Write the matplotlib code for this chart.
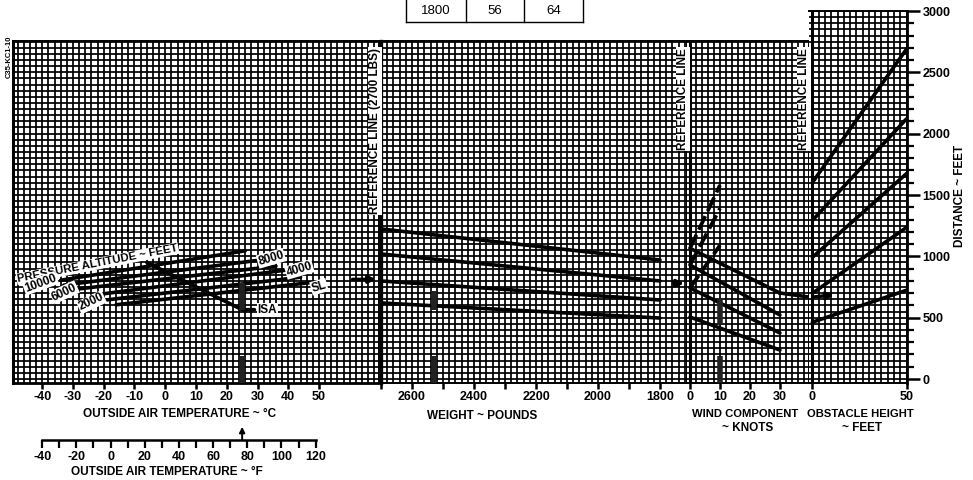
import numpy as np
import matplotlib
matplotlib.use("Agg")
import matplotlib.pyplot as plt
from matplotlib.ticker import MultipleLocator
from matplotlib.lines import Line2D

plt.rcParams['font.family'] = ['Liberation Sans', 'DejaVu Sans']
plt.rcParams['font.weight'] = 'bold'

# ---------------- data ----------------
temp_ticks_c = [-40, -30, -20, -10, 0, 10, 20, 30, 40, 50]
temp_ticks_f = [-40, -20, 0, 20, 40, 60, 80, 100, 120]
weight_ticks = [2600, 2400, 2200, 2000, 1800]
wind_ticks = [0, 10, 20, 30]
obstacle_ticks = [0, 50]
distance_ticks = [0, 500, 1000, 1500, 2000, 2500, 3000]

# pressure altitude lines: (OAT degC, distance ft) at each end
altitudes = ["10000", "8000", "6000", "4000", "2000", "SL"]
alt_t0 = [-34, -33, -28, -23, -19, -16]
alt_d0 = [805, 765, 735, 685, 645, 605]
alt_t1 = [26, 31, 36, 40, 44, 47]
alt_d1 = [1045, 970, 920, 890, 830, 785]

isa_t = [-6, 25, 29]
isa_d = [950, 565, 565]

# weight guide lines: distance at 2700 lb and at 1800 lb
weight_d_2700 = [1223, 1019, 799, 620]
weight_d_1800 = [970, 799, 644, 497]

# wind guide lines: headwind (0 -> 30 kt), tailwind (0 -> 10 kt)
head_d_0 = [1065, 929, 742, 505]
head_d_30 = [701, 522, 375, 236]
tail_d_0 = [1065, 929, 742]
tail_d_10 = [1580, 1390, 1090]

# obstacle guide lines: distance at 0 ft and 50 ft
obst_d_0 = [1602, 1293, 992, 699, 463]
obst_d_50 = [2691, 2122, 1675, 1236, 724]

# worked example
ex_oat = 25
ex_weight = 2530
ex_wind = 10
ex_d_alt = 812
ex_d_weight = 780
ex_d_wind = 668

table_row = ["1800", "56", "64"]

# ---------------- figure ----------------
W_PX, H_PX = 973, 480
fig = plt.figure(figsize=(W_PX / 100, H_PX / 100), dpi=100)


def px_axes(x0, y0, x1, y1):
    return fig.add_axes([x0 / W_PX, 1 - y1 / H_PX, (x1 - x0) / W_PX, (y1 - y0) / H_PX])


def ftext(x, y, s, **kw):
    return fig.text(x / W_PX, 1 - y / H_PX, s, **kw)


def fline(xs, ys, **kw):
    fig.add_artist(Line2D([x / W_PX for x in xs], [1 - y / H_PX for y in ys],
                          transform=fig.transFigure, **kw))


D_BOTTOM = -32.6
D_TOP = 2755
LINE = dict(color='black', lw=2.6, solid_capstyle='round', zorder=3)
EX = dict(color='#222222', lw=4.0, solid_capstyle='butt', zorder=4)
WHITE = dict(facecolor='white', edgecolor='none', pad=0.6)
ARROW = dict(arrowstyle='-|>', color='black', lw=2.5, mutation_scale=10)


def setup(ax, xlim, ylim, dx, hide_left=False):
    ax.set_xlim(*xlim)
    ax.set_ylim(*ylim)
    ax.xaxis.set_minor_locator(MultipleLocator(dx))
    ax.yaxis.set_minor_locator(MultipleLocator(50))
    ax.yaxis.set_major_locator(MultipleLocator(500))
    ax.grid(which='both', color='black', lw=1.25)
    ax.set_axisbelow(True)
    ax.tick_params(which='minor', length=0)
    ax.tick_params(axis='y', which='both', length=0, labelleft=False)
    ax.tick_params(axis='x', which='major', direction='out', length=4, width=1.8,
                   labelsize=9, pad=1.5)
    for s in ax.spines.values():
        s.set_linewidth(1.4)
    if hide_left:
        ax.spines['left'].set_visible(False)


# ---- temperature / pressure altitude panel ----
ax_t = px_axes(13, 41, 379, 383)
setup(ax_t, (-49.5, 69.5), (D_BOTTOM, D_TOP), 2)
ax_t.spines['left'].set_linewidth(2.2)
ax_t.spines['bottom'].set_linewidth(2.0)
ax_t.set_xticks(temp_ticks_c)
ax_t.set_xticklabels([str(v) for v in temp_ticks_c], fontweight='bold')
for t0, d0, t1, d1 in zip(alt_t0, alt_d0, alt_t1, alt_d1):
    ax_t.plot([t0, t1], [d0, d1], **LINE)
ax_t.plot(isa_t, isa_d, **LINE)

lab = dict(fontsize=8.5, fontweight='bold', ha='center', va='center', bbox=WHITE, zorder=5)
ax_t.text(-22.0, 940, "PRESSURE ALTITUDE ~ FEET", rotation=11, fontsize=8.2,
          **{k: v for k, v in lab.items() if k != 'fontsize'})
ax_t.text(-40.6, 780, "10000", rotation=20, **lab)
ax_t.text(-32.8, 707, "6000", rotation=25, **lab)
ax_t.text(-24.0, 626, "2000", rotation=25, **lab)
ax_t.text(34.4, 984, "8000", rotation=16, **lab)
ax_t.text(43.6, 894, "4000", rotation=16, **lab)
ax_t.text(50.0, 752, "SL", rotation=16, **lab)
ax_t.text(33.2, 561, "ISA", rotation=0, **lab)

ax_t.plot([ex_oat, ex_oat], [D_BOTTOM, 190], **EX)
ax_t.plot([ex_oat, ex_oat], [560, 780], **EX)
ax_t.annotate("", xy=(69.5, ex_d_alt), xytext=(60, ex_d_alt), arrowprops=ARROW, zorder=5)

# ---- weight panel ----
ax_w = px_axes(381, 41, 687, 383)
setup(ax_w, (2700, 1713), (D_BOTTOM, D_TOP), 20, hide_left=True)
w_all = np.arange(2700, 1750, -100)
ax_w.set_xticks(w_all)
ax_w.set_xticklabels([str(v) if v in weight_ticks else "" for v in w_all], fontweight='bold')
ax_w.axvline(2700, color='black', lw=2.4, zorder=3, clip_on=False)
for d0, d1 in zip(weight_d_2700, weight_d_1800):
    ax_w.plot([2700, 1800], [d0, d1], **LINE)
ax_w.plot([ex_weight, ex_weight], [D_BOTTOM, 190], **EX)
ax_w.plot([ex_weight, ex_weight], [560, 720], **EX)
ax_w.annotate("", xy=(1713, ex_d_weight), xytext=(1765, ex_d_weight), arrowprops=ARROW, zorder=5)

# ---- wind panel ----
ax_h = px_axes(687, 41, 809, 383)
setup(ax_h, (-1.0, 39.7), (D_BOTTOM, D_TOP), 2, hide_left=True)
ax_h.set_xticks(wind_ticks)
ax_h.set_xticklabels([str(v) for v in wind_ticks], fontweight='bold')
ax_h.axvline(0, color='black', lw=2.2, zorder=3)
for d0, d1 in zip(head_d_0, head_d_30):
    ax_h.plot([0, 30], [d0, d1], **LINE)
for d0, d1 in zip(tail_d_0, tail_d_10):
    ax_h.plot([0, 10], [d0, d1], color='black', lw=2.7, dashes=(4, 1.5), zorder=3)
ax_h.plot([ex_wind, ex_wind], [D_BOTTOM, 190], **EX)
ax_h.plot([ex_wind, ex_wind], [440, 660], **EX)
ax_h.plot([30, 39.7], [head_d_30[0], ex_d_wind], color='black', lw=2.6, zorder=3)

# ---- obstacle panel ----
ax_o = px_axes(809, 11, 907, 383)
setup(ax_o, (-1.8, 50.2), (D_BOTTOM, 3000), 50 / 15, hide_left=True)
ax_o.set_xticks(obstacle_ticks)
ax_o.set_xticklabels([str(v) for v in obstacle_ticks], fontweight='bold')
ax_o.axvline(0, color='black', lw=2.2, zorder=3)
for d0, d1 in zip(obst_d_0, obst_d_50):
    ax_o.plot([0, 50], [d0, d1], **LINE)
ax_o.annotate("", xy=(13, ex_d_wind + 20), xytext=(0, ex_d_wind), arrowprops=ARROW, zorder=5)

ax_r = ax_o.twinx()
ax_r.set_ylim(D_BOTTOM, 3000)
ax_r.set_yticks(distance_ticks)
ax_r.set_yticklabels([str(v) for v in distance_ticks], fontweight='bold')
ax_r.yaxis.set_minor_locator(MultipleLocator(100))
ax_r.tick_params(axis='y', which='major', direction='out', length=9, width=1.8,
                 labelsize=9, pad=2)
ax_r.tick_params(axis='y', which='minor', direction='out', length=5, width=1.6)
for s in ax_r.spines.values():
    s.set_visible(False)
ax_r.spines['right'].set_visible(True)
ax_r.spines['right'].set_linewidth(2.0)

# ---- Fahrenheit scale ----
ax_f = px_axes(13, 436, 379, 440)
ax_f.set_xlim(-49.5 * 1.8 + 32, 69.5 * 1.8 + 32)
for k in ['top', 'left', 'right']:
    ax_f.spines[k].set_visible(False)
ax_f.spines['bottom'].set_bounds(-40, 120)
ax_f.spines['bottom'].set_linewidth(1.8)
ax_f.set_yticks([])
f_all = np.arange(-40, 121, 10)
ax_f.set_xticks(f_all)
ax_f.set_xticklabels([str(v) if v in temp_ticks_f else "" for v in f_all], fontweight='bold')
ax_f.tick_params(axis='x', direction='out', length=6, width=1.6, labelsize=9, pad=2)
ax_f.patch.set_visible(False)
ex_f = ex_oat * 1.8 + 32
ax_f.annotate("", xy=(ex_f, 3.3), xycoords=('data', 'axes fraction'),
              xytext=(ex_f, 0.0), textcoords=('data', 'axes fraction'),
              arrowprops=dict(arrowstyle='-|>', color='black', lw=1.4, mutation_scale=8,
                              shrinkA=0, shrinkB=0),
              annotation_clip=False)

# ---- axis titles and labels ----
title = dict(fontsize=8.5, fontweight='bold', ha='center', va='center')
ftext(180, 414, "OUTSIDE AIR TEMPERATURE ~ °C", **title)
ftext(167, 472, "OUTSIDE AIR TEMPERATURE ~ °F", **title)
ftext(482, 416, "WEIGHT ~ POUNDS", **title)
ftext(745, 414, "WIND COMPONENT", fontsize=8.1, fontweight='bold', ha='center', va='center')
ftext(748, 428, "~ KNOTS", **title)
ftext(860, 414, "OBSTACLE HEIGHT", fontsize=8.1, fontweight='bold', ha='center', va='center')
ftext(862, 428, "~ FEET", **title)
ftext(960, 196, "DISTANCE ~ FEET", rotation=90, **title)
ftext(9, 57, "C35-KC1-10", fontsize=5.5, fontweight='bold', rotation=90,
      ha='center', va='center')

ref = dict(fontsize=8.5, fontweight='bold', rotation=90, ha='center', va='top',
           bbox=WHITE, zorder=10)
ftext(375, 48, "REFERENCE LINE (2700 LBS)", **ref)
ftext(683, 48, "REFERENCE LINE", **ref)
ftext(804, 48, "REFERENCE LINE", **ref)

# ---- table fragment at top ----
col_edges = [406, 466, 524, 583]
for x in col_edges:
    fline([x, x], [0, 22], color='black', lw=1.0)
fline([406, 583], [22, 22], color='black', lw=1.0)
for (x0, x1), s in zip(zip(col_edges[:-1], col_edges[1:]), table_row):
    ftext((x0 + x1) / 2, 11, s, fontsize=9.5, fontweight='normal', ha='center', va='center')

fig.savefig("out.png", dpi=100)
